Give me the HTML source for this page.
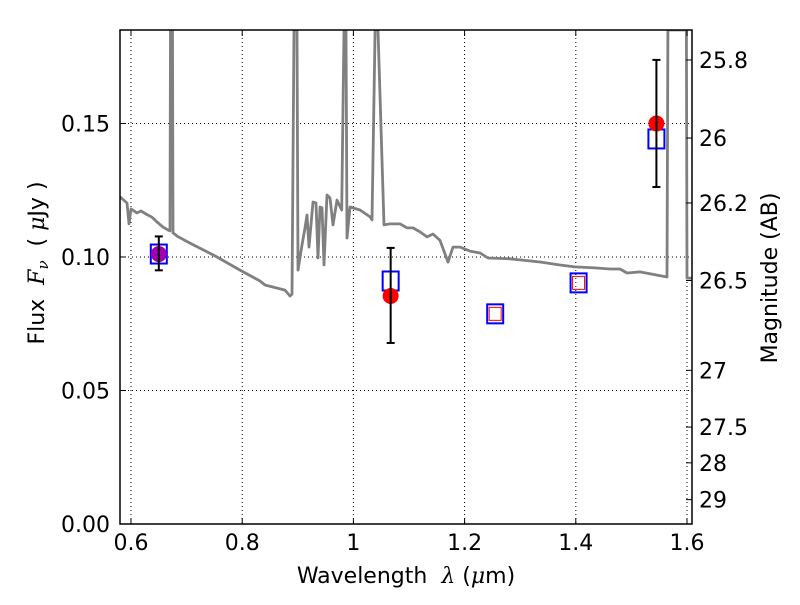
<!DOCTYPE html>
<html><head><meta charset="utf-8"><style>
body{margin:0;background:#fff;}
svg text{font-family:"DejaVu Sans","Liberation Sans",sans-serif;white-space:pre;}
</style></head><body>
<svg id="chart" width="800" height="600" xmlns="http://www.w3.org/2000/svg"></svg>
<script>
const specLambda=[0.5802,0.5928,0.5964,0.6,0.6108,0.618,0.627,0.6378,0.6468,0.6576,0.6665,0.6701,0.671,0.6746,0.6755,0.6845,0.7061,0.7511,0.796,0.832,0.841,0.877,0.886,0.8896,0.8932,0.8986,0.9004,0.9076,0.913,0.9165,0.9201,0.9273,0.9327,0.9363,0.9399,0.9435,0.9471,0.9525,0.9579,0.9633,0.9705,0.979,0.983,0.9867,0.9885,0.9939,1.0119,1.03,1.0335,1.039,1.0442,1.055,1.0658,1.0838,1.0964,1.1072,1.1198,1.1324,1.1432,1.1558,1.1701,1.1791,1.1917,1.2097,1.2277,1.2421,1.2817,1.2996,1.3356,1.3716,1.3986,1.4345,1.4615,1.4795,1.4921,1.5155,1.564,1.5657,1.5989,1.6,1.609];
const specFlux=[0.1225,0.1202,0.1124,0.118,0.1165,0.1172,0.1161,0.1149,0.1131,0.1112,0.1101,0.1098,0.185,0.185,0.109,0.1076,0.1052,0.1004,0.0951,0.091,0.0895,0.0876,0.0854,0.0861,0.185,0.185,0.0951,0.1045,0.1109,0.1157,0.1037,0.1206,0.1202,0.0996,0.1187,0.1184,0.097,0.1232,0.1221,0.112,0.1213,0.1176,0.185,0.185,0.1071,0.1187,0.1176,0.115,0.1139,0.185,0.185,0.112,0.1124,0.1124,0.1109,0.1109,0.1094,0.1075,0.1086,0.1062,0.0981,0.1037,0.1037,0.1022,0.1015,0.0996,0.0993,0.0989,0.0981,0.097,0.0963,0.0959,0.0955,0.0955,0.094,0.0944,0.0925,0.185,0.185,0.0921,0.0921];
const obsLambda=[0.650,1.067,1.545];
const obsFlux=[0.1011,0.0854,0.1500];
const obsErrLo=[0.0950,0.0678,0.1262];
const obsErrHi=[0.1077,0.1034,0.1738];
const obsColor=['#a000b0','#ff0000','#ff0000'];
const modelLambda=[0.650,1.067,1.255,1.405,1.545];
const modelFlux=[0.1011,0.0910,0.0787,0.0903,0.1442];
const smallLambda=[1.255,1.405];
const smallFlux=[0.0787,0.0903];
const xTicks=[0.6,0.8,1.0,1.2,1.4,1.6];
const xTickLabels=['0.6','0.8','1','1.2','1.4','1.6'];
const yTicks=[0,0.05,0.10,0.15];
const yTickLabels=['0.00','0.05','0.10','0.15'];
const magTicks=[25.8,26,26.2,26.5,27,27.5,28,29];
const magTickLabels=['25.8','26','26.2','26.5','27','27.5','28','29'];

const L=120,R=692,T=30,B=524,X0=0.5802,X1=1.609,Y0=0,Y1=0.185;
const sx=v=>L+(v-X0)/(X1-X0)*(R-L);
const sy=v=>B-(v-Y0)/(Y1-Y0)*(B-T);
const NS='http://www.w3.org/2000/svg';
const svg=document.getElementById('chart');
function mk(tag,attrs,parent){const e=document.createElementNS(NS,tag);for(const k in attrs)e.setAttribute(k,attrs[k]);(parent||svg).appendChild(e);return e;}
const FS=22;
const clip=mk('clipPath',{id:'c'});mk('rect',{x:L,y:T,width:R-L,height:B-T},clip);
const grid=mk('g',{});


xTicks.forEach(v=>{mk('line',{x1:sx(v),x2:sx(v),y1:T,y2:B,stroke:'#000','stroke-width':1,'stroke-dasharray':'1,3'},grid);});
yTicks.forEach(v=>{mk('line',{x1:L,x2:R,y1:sy(v),y2:sy(v),stroke:'#000','stroke-width':1,'stroke-dasharray':'1,3'},grid);});

let pts=specLambda.map((l,i)=>sx(l).toFixed(1)+','+sy(specFlux[i]).toFixed(1)).join(' ');
const spec=mk('polyline',{points:pts,fill:'none',stroke:'#808080','stroke-width':2.8,'clip-path':'url(#c)','stroke-linejoin':'round'});



modelLambda.forEach((l,i)=>{const r=mk('rect',{x:sx(l)-8,y:sy(modelFlux[i])-9.5,width:16,height:19,fill:'none',stroke:'#0000ff','stroke-width':2});

});
smallLambda.forEach((l,i)=>{const r=mk('rect',{x:sx(l)-6,y:sy(smallFlux[i])-6.5,width:12,height:13,fill:'none',stroke:'#ff0000','stroke-width':1});

});
obsLambda.forEach((l,i)=>{const g=mk('g',{});


const x=sx(l);
mk('circle',{cx:x,cy:sy(obsFlux[i]),r:8,fill:obsColor[i]},g);
mk('line',{x1:x,x2:x,y1:sy(obsErrLo[i]),y2:sy(obsErrHi[i]),stroke:'#000','stroke-width':2},g);
mk('line',{x1:x-4,x2:x+4,y1:sy(obsErrLo[i]),y2:sy(obsErrLo[i]),stroke:'#000','stroke-width':2},g);
mk('line',{x1:x-4,x2:x+4,y1:sy(obsErrHi[i]),y2:sy(obsErrHi[i]),stroke:'#000','stroke-width':2},g);});

const fr=mk('rect',{x:L,y:T,width:R-L,height:B-T,fill:'none',stroke:'#000','stroke-width':1.5});



xTicks.forEach((v,i)=>{const x=sx(v);
mk('line',{x1:x,x2:x,y1:B,y2:B-6,stroke:'#000'});mk('line',{x1:x,x2:x,y1:T,y2:T+6,stroke:'#000'});
const t=mk('text',{x:x,y:B+26,'font-size':FS,'text-anchor':'middle'});t.textContent=xTickLabels[i];

});
yTicks.forEach((v,i)=>{const y=sy(v);
mk('line',{x1:L,x2:L+6,y1:y,y2:y,stroke:'#000'});
const t=mk('text',{x:L-10,y:y+8,'font-size':FS,'text-anchor':'end'});t.textContent=yTickLabels[i];

});
magTicks.forEach((m,i)=>{const y=sy(Math.pow(10,(23.9-m)/2.5));
mk('line',{x1:R,x2:R-6,y1:y,y2:y,stroke:'#000'});
const t=mk('text',{x:R+7,y:y+8,'font-size':FS});t.textContent=magTickLabels[i];

});

const xl=mk('text',{x:406,y:583,'font-size':FS,'text-anchor':'middle'});
xl.innerHTML='Wavelength&#160;&#160;<tspan font-style="italic" font-family="DejaVu Serif">λ</tspan> (<tspan font-style="italic" font-family="DejaVu Serif">μ</tspan>m)';


const yl=mk('text',{x:0,y:0,'font-size':FS,'text-anchor':'middle',transform:'translate(44,263) rotate(-90)'});
yl.innerHTML='Flux&#160;&#160;<tspan font-style="italic" font-family="DejaVu Serif">F</tspan><tspan font-style="italic" font-family="DejaVu Serif" font-size="15" dy="4">ν</tspan><tspan dy="-4">&#160;&#160;(&#160;</tspan><tspan font-style="italic" font-family="DejaVu Serif">μ</tspan>Jy )';


const rl=mk('text',{x:0,y:0,'font-size':FS,'text-anchor':'middle',transform:'translate(777,278) rotate(-90)'});
rl.textContent='Magnitude (AB)';


</script>
</body></html>
